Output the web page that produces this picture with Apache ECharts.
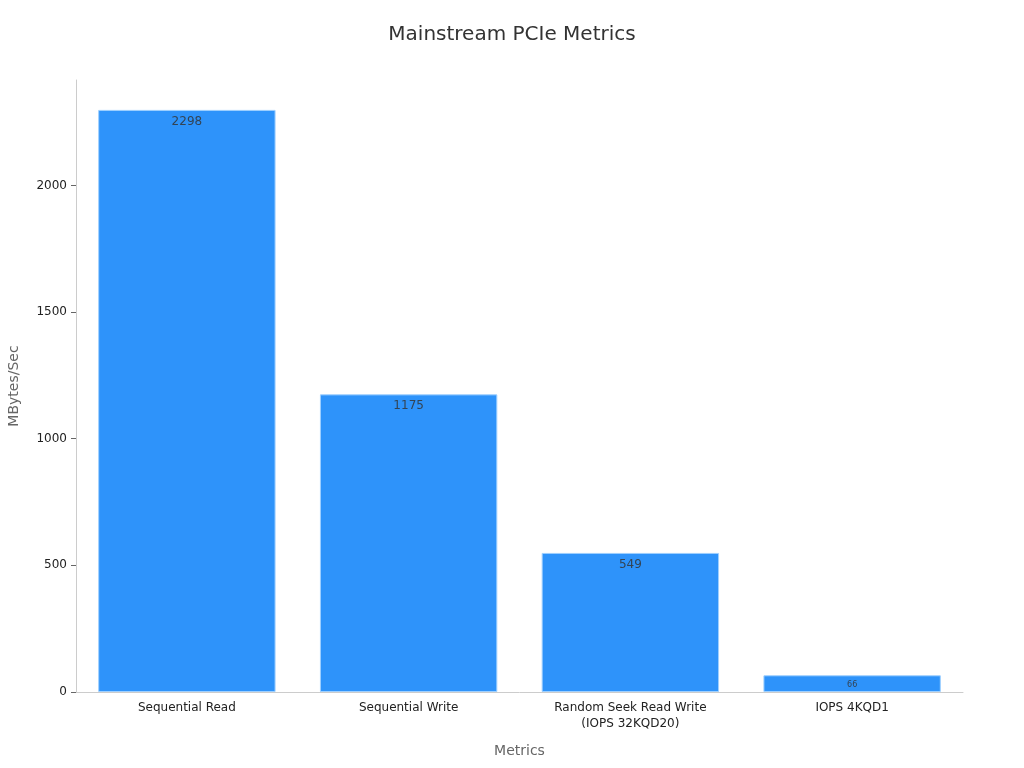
<!DOCTYPE html>
<html><head><meta charset="utf-8">
<script src="https://cdn.jsdelivr.net/npm/echarts@6/dist/echarts.min.js"></script>
<style>html,body{margin:0;padding:0;background:#fff}#c{width:1024px;height:768px}</style>
</head><body><div id="c"></div>
<script>
const categories = ['Sequential Read', 'Sequential Write', 'Random Seek Read Write\n(IOPS 32KQD20)', 'IOPS 4KQD1'];
const values = [2298, 1175, 549, 66];
const yTicks = [0, 500, 1000, 1500, 2000];

const chart = echarts.init(document.getElementById('c'));
const font = 'DejaVu Sans';
chart.setOption({
  animation: false,
  textStyle: { fontFamily: font },
  title: { text: 'Mainstream PCIe Metrics', left: 'center', top: 20,
    textStyle: { fontFamily: font, fontSize: 20, fontWeight: 'normal', color: '#333' } },
  grid: { left: 76, right: 61, top: 80, bottom: 76, containLabel: false, outerBoundsMode: 'none' },
  xAxis: {
    type: 'category', data: categories,
    name: 'Metrics', nameLocation: 'middle', nameGap: 52,
    nameTextStyle: { fontFamily: font, fontSize: 14, color: '#666' },
    axisLine: { lineStyle: { color: '#ccc' } },
    axisTick: { alignWithLabel: true, lineStyle: { color: '#666' } },
    axisLabel: { fontFamily: font, fontSize: 12, color: '#222', lineHeight: 16 }
  },
  yAxis: {
    type: 'value', min: 0, max: 2416, interval: 500,
    name: 'MBytes/Sec', nameLocation: 'middle', nameGap: 55,
    nameTextStyle: { fontFamily: font, fontSize: 14, color: '#666' },
    splitLine: { show: false },
    axisLine: { show: true, lineStyle: { color: '#ccc' } },
    axisTick: { show: true, customValues: yTicks, lineStyle: { color: '#666' } },
    axisLabel: { fontFamily: font, fontSize: 12, color: '#222', customValues: yTicks, margin: 9,
      formatter: v => String(v) }
  },
  series: [{
    type: 'bar', barCategoryGap: '20%',
    data: values.map((v, i) => i === 3 ? { value: v, label: { fontSize: 8 } } : v),
    itemStyle: { color: '#2E93FA', borderColor: '#9fd0ff', borderWidth: 1 },
    label: { show: true, position: 'insideTop', distance: 6, fontFamily: font, fontSize: 12, color: '#334455' }
  }]
});
</script></body></html>
